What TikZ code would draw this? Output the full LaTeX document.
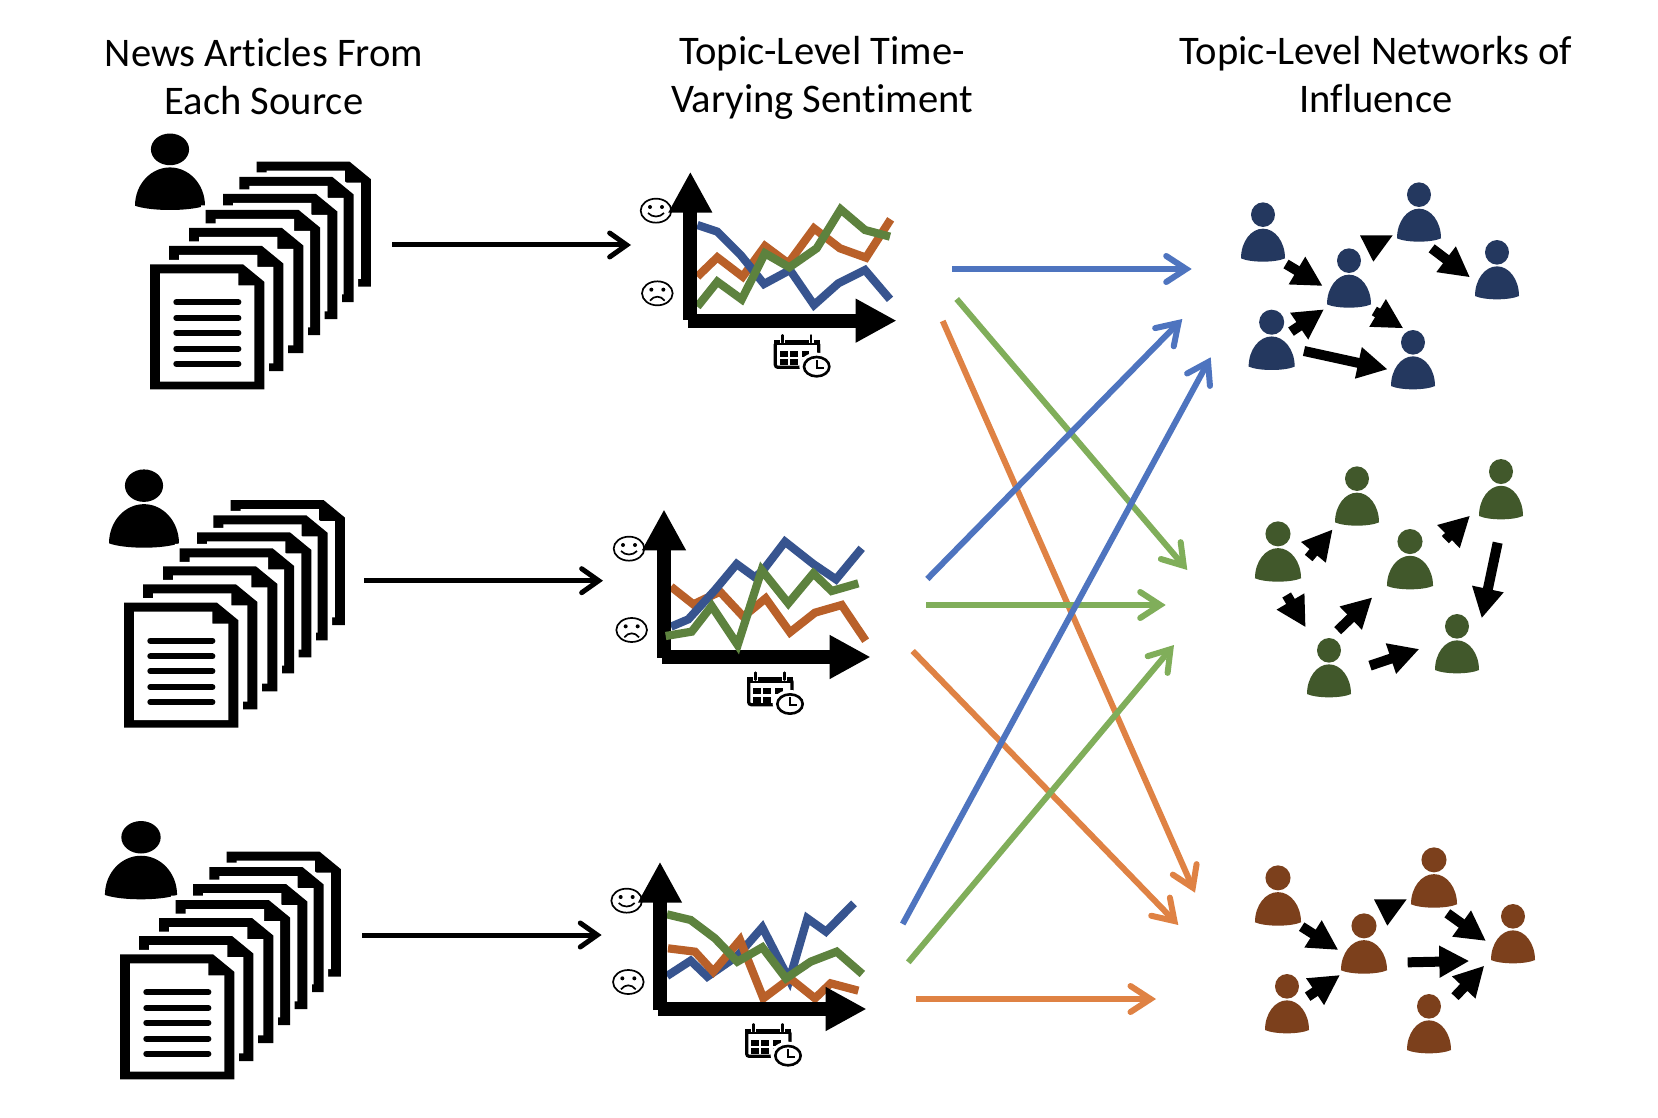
\documentclass[tikz,border=0pt]{standalone}
\usepackage{fontspec}
\setmainfont[Ligatures=NoCommon]{Carlito}
\usetikzlibrary{arrows.meta}

\definecolor{seriesblue}{HTML}{37548F}
\definecolor{seriesorange}{HTML}{B96029}
\definecolor{seriesgreen}{HTML}{5D823E}
\definecolor{flowblue}{HTML}{4E74BF}
\definecolor{flowgreen}{HTML}{80AE5A}
\definecolor{floworange}{HTML}{DF8244}
\definecolor{netblue}{HTML}{24385F}
\definecolor{netgreen}{HTML}{41582B}
\definecolor{netbrown}{HTML}{7C401C}

\tikzset{
  title/.style={font=\fontsize{40.6}{47.5}\selectfont, align=center, text=black},
  series/.style={line width=8.2pt, line cap=butt, line join=miter, miter limit=6},
  axisline/.style={line width=14pt, black, -{Triangle[length=41pt,width=41pt]}},
  feedarrow/.style={line width=5pt, black, -{Straight Barb[length=17pt,width=24pt,line cap=round,line join=miter]}},
  flowarrow/.style={line width=6pt, -{Straight Barb[length=20pt,width=26pt,line cap=round,line join=miter]}},
  influence/.style={line width=10pt, black, -{Triangle[length=30pt,width=30pt]}},
  faceline/.style={line width=1.7pt, black},
}

% One sheet of paper with a folded corner and a white halo; (#1,#2) is its top left corner
\newcommand{\docsheet}[2]{%
  \begin{scope}[shift={(#1,#2)}]
    \draw[white, line width=9pt, line join=miter] (0,0) -- (93,0) -- (114.3,17.5) -- (114.3,125) -- (0,125) -- cycle;
    \fill[black] (0,0) -- (93,0) -- (114.3,17.5) -- (114.3,125) -- (0,125) -- cycle;
    \fill[white] (10,9) -- (88.3,9) -- (88.3,21) -- (104.3,21) -- (104.3,117.3) -- (10,117.3) -- cycle;
  \end{scope}}

% A stack of seven sheets, the front one carrying lines of text
\newcommand{\docstack}[2]{%
  \begin{scope}[shift={(#1,#2)}]
    \docsheet{106.6}{-102.6}
    \docsheet{89.4}{-87.3}
    \docsheet{73}{-70.3}
    \docsheet{55.7}{-54.3}
    \docsheet{39}{-36.3}
    \docsheet{19}{-18.3}
    \docsheet{0}{0}
    \foreach \ly in {38,53.7,68.4,84.4,99.4}
      \draw[black, line width=6pt, line cap=round] (26.3,\ly) -- (88.4,\ly);
  \end{scope}}

% Head-and-shoulders figure: (#1,#2) is the bottom centre, #3 and #4 the scales
\newcommand{\personicon}[5]{%
  \begin{scope}[shift={(#1,#2)}, xscale=#3, yscale=#4]
    \fill[#5] (-22,-3.3) .. controls (-22,-20) and (-12,-33) .. (0,-33)
      .. controls (12,-33) and (22,-20) .. (22,-3.3)
      .. controls (12,1.1) and (-12,1.1) .. (-22,-3.3) -- cycle;
    \fill[#5] (0,-47) ellipse [x radius=12, y radius=12.3];
  \end{scope}}

\newcommand{\facebase}{%
  \draw[faceline, fill=white] (0,0) ellipse [x radius=46, y radius=36];
  \fill[black] (-18,-11) ellipse [x radius=6, y radius=6];
  \fill[black] (18,-11) ellipse [x radius=6, y radius=6];}

\newcommand{\smileface}[2]{%
  \begin{scope}[shift={(#1,#2)}]
    \facebase
    \draw[faceline] (-24,7) .. controls (-12,21) and (12,21) .. (24,7);
  \end{scope}}

\newcommand{\frownface}[2]{%
  \begin{scope}[shift={(#1,#2)}]
    \facebase
    \draw[faceline] (-22,22) .. controls (-10,6) and (10,6) .. (22,22);
  \end{scope}}

% Calendar with a small clock on its lower right corner
\newcommand{\calendaricon}[2]{%
  \begin{scope}[shift={(#1,#2)}]
    \draw[black, line width=3.2pt, rounded corners=2.5pt] (4,6) rectangle (134,82);
    \fill[black] (0,0) rectangle (138,16);
    \foreach \rx in {25,111} {
      \draw[white, line width=5pt] (\rx,-16) -- (\rx,10);
      \draw[black, line width=2.6pt, line cap=round] (\rx,-14) -- (\rx,7);
    }
    \foreach \qx in {18,48,83} \foreach \qy in {32,58}
      \fill[black] (\qx,\qy) rectangle (\qx+23,\qy+18);
    \draw[white, line width=4pt, fill=white] (128,80) ellipse [x radius=46, y radius=36];
    \draw[black, line width=2.6pt, fill=white] (128,80) ellipse [x radius=38, y radius=29];
    \draw[black, line width=2pt, line join=miter] (128,60) -- (128,83) -- (150,83);
  \end{scope}}

% Connectors between the columns, with named end points
\newcommand{\feedline}[3]{%
  \coordinate (#1-from) at (#2);
  \coordinate (#1-to) at (#3);
  \draw[feedarrow] (#1-from) -- (#1-to);}

\newcommand{\flowline}[4]{%
  \coordinate (#1-from) at (#3);
  \coordinate (#1-to) at (#4);
  \draw[flowarrow, #2] (#1-from) -- (#1-to);}

\newcommand{\netarrow}[3]{%
  \coordinate (#1-from) at (#2);
  \coordinate (#1-to) at (#3);
  \draw[influence] (#1-from) -- (#1-to);}

\begin{document}
\begin{tikzpicture}[x=1pt, y=-1pt]
  \useasboundingbox (0,0) rectangle (1658,1118);
  \fill[white] (0,0) rectangle (1658,1118);

  % Column headings
  \node[title] (head-news) at (264,76.5) {News Articles From\\Each Source};
  \node[title] (head-sentiment) at (822,78) {Topic-Level Time-\\Varying Sentiment};
  \node[title] (head-network) at (1376,74.5) {Topic-Level Networks of\\Influence};

  % Sources: a person and a stack of articles
  \personicon{170}{210}{1.59}{1.29}{black}
  \docstack{150}{264.3}
  \personicon{144}{547.7}{1.59}{1.32}{black}
  \docstack{124}{602.7}
  \personicon{141}{899.3}{1.64}{1.32}{black}
  \docstack{120}{954.3}

  % From articles to sentiment charts
  \feedline{feed-a}{392,245}{631,245}
  \feedline{feed-b}{364,580.7}{603,580.7}
  \feedline{feed-c}{362,935}{601.6,935}

  % Chart for the first source
  \begin{scope}[shift={(620,160)}, x=0.33333pt, y=-0.33333pt]
    \smileface{108}{152}
    \frownface{112}{400}
    \draw[series, seriesorange] (232,350) -- (292,292) -- (368,350) -- (435,258) -- (505,310) -- (582,205) -- (660,265) -- (738,293) -- (812,178);
    \draw[series, seriesblue] (232,195) -- (292,215) -- (362,285) -- (432,372) -- (510,330) -- (582,435) -- (655,370) -- (735,330) -- (810,418);
    \draw[series, seriesgreen] (232,440) -- (292,365) -- (365,418) -- (435,280) -- (508,322) -- (590,265) -- (662,148) -- (735,210) -- (810,230);
    \coordinate (ya-base) at (211,480); \coordinate (ya-tip) at (211,35);
    \coordinate (xa-base) at (205,482); \coordinate (xa-tip) at (830,482);
    \draw[axisline] (ya-base) -- (ya-tip);
    \draw[axisline] (xa-base) -- (xa-tip);
    \calendaricon{462}{540}
  \end{scope}

  % Chart for the second source
  \begin{scope}[shift={(600,490)}, x=0.33333pt, y=-0.33333pt]
    \smileface{87}{176}
    \frownface{95}{420}
    \draw[series, seriesorange] (213,290) -- (280,343) -- (360,305) -- (430,380) -- (497,325) -- (570,427) -- (645,368) -- (725,345) -- (797,452);
    \draw[series, seriesblue] (213,410) -- (265,388) -- (345,300) -- (410,222) -- (465,262) -- (490,240) -- (555,155) -- (640,222) -- (708,268) -- (785,175);
    \coordinate (yb-base) at (192,503); \coordinate (yb-tip) at (192,58);
    \coordinate (xb-base) at (186,501); \coordinate (xb-tip) at (812,501);
    \draw[axisline] (yb-base) -- (yb-tip);
    \draw[axisline] (xb-base) -- (xb-tip);
    \draw[series, seriesgreen] (197,438) -- (275,425) -- (335,348) -- (413,465) -- (485,240) -- (565,340) -- (640,250) -- (695,303) -- (775,280);
    \calendaricon{442}{562}
  \end{scope}

  % Chart for the third source
  \begin{scope}[shift={(600,850)}, x=0.33333pt, y=-0.33333pt]
    \smileface{80}{152}
    \frownface{85}{396}
    \draw[series, seriesblue] (201,378) -- (272,332) -- (322,380) -- (412,318) -- (487,232) -- (568,390) -- (622,205) -- (678,245) -- (762,160);
    \draw[series, seriesorange] (204,295) -- (285,305) -- (340,365) -- (420,270) -- (490,445) -- (570,385) -- (645,445) -- (692,400) -- (775,422);
    \draw[series, seriesgreen] (201,193) -- (272,210) -- (345,265) -- (412,335) -- (487,292) -- (558,385) -- (632,335) -- (710,305) -- (787,372);
    \coordinate (yc-base) at (180,480); \coordinate (yc-tip) at (180,35);
    \coordinate (xc-base) at (174,477); \coordinate (xc-tip) at (800,477);
    \draw[axisline] (yc-base) -- (yc-tip);
    \draw[axisline] (xc-base) -- (xc-tip);
    \calendaricon{436}{537}
  \end{scope}

  % Flows from charts to networks
  \flowline{flow-bb}{flowblue}{952,269}{1191.7,269}
  \flowline{flow-gg}{flowgreen}{956.7,299}{1187.3,570}
  \flowline{flow-oo}{floworange}{942.7,321}{1195,892.7}
  \flowline{flow-b2}{flowblue}{927.3,579}{1182.3,319}
  \flowline{flow-g2}{flowgreen}{926,605}{1165.7,605}
  \flowline{flow-o2}{floworange}{912.7,651}{1178.3,925}
  \flowline{flow-b3}{flowblue}{902.7,924}{1210.7,357.3}
  \flowline{flow-g3}{flowgreen}{908.3,962.3}{1174,645}
  \flowline{flow-o3}{floworange}{916,999}{1156,999}

  % Blue network
  \begin{scope}[shift={(1220,170)}, x=0.33333pt, y=-0.33333pt]
    \personicon{129}{275}{3}{3}{netblue}
    \personicon{387}{413}{3}{3}{netblue}
    \personicon{597}{215}{3}{3}{netblue}
    \personicon{831}{388}{3}{3}{netblue}
    \personicon{155}{600}{3.14}{3.05}{netblue}
    \personicon{579}{658}{3}{3}{netblue}
    \netarrow{na1}{198,282}{308,348}
    \fill[black] (420,196) -- (518,196) -- (460,275) -- cycle;
    \netarrow{na3}{635,235}{750,322}
    \netarrow{na4}{213,485}{312,418}
    \netarrow{na5}{463,423}{550,475}
    \netarrow{na6}{252,543}{503,598}
  \end{scope}

  % Green network
  \begin{scope}[shift={(1230,440)}, x=0.33333pt, y=-0.33333pt]
    \personicon{144}{425}{3.14}{3.05}{netgreen}
    \personicon{381}{257}{3}{3}{netgreen}
    \personicon{540}{448}{3.14}{3.05}{netgreen}
    \personicon{813}{238}{3}{3.05}{netgreen}
    \personicon{297}{772}{3}{3}{netgreen}
    \personicon{681}{700}{3}{3}{netgreen}
    \netarrow{nb1}{236,354}{308,268}
    \netarrow{nb2}{646,299}{720,227}
    \netarrow{nb3}{803,308}{755,535}
    \netarrow{nb4}{170,465}{227,562}
    \netarrow{nb5}{323,572}{427,472}
    \netarrow{nb6}{420,677}{568,627}
  \end{scope}

  % Brown network
  \begin{scope}[shift={(1230,830)}, x=0.33333pt, y=-0.33333pt]
    \personicon{144}{287}{3.14}{3.05}{netbrown}
    \personicon{402}{431}{3.14}{3.05}{netbrown}
    \personicon{612}{233}{3.14}{3.05}{netbrown}
    \personicon{849}{400}{3}{3}{netbrown}
    \personicon{171}{610}{3}{3}{netbrown}
    \personicon{597}{670}{3}{3}{netbrown}
    \netarrow{nc1}{215,290}{325,360}
    \fill[black] (432,208) -- (530,208) -- (472,287) -- cycle;
    \netarrow{nc3}{652,250}{768,333}
    \netarrow{nc4}{533,397}{718,393}
    \netarrow{nc5}{233,500}{330,435}
    \netarrow{nc6}{675,500}{763,407}
  \end{scope}
\end{tikzpicture}
\end{document}
